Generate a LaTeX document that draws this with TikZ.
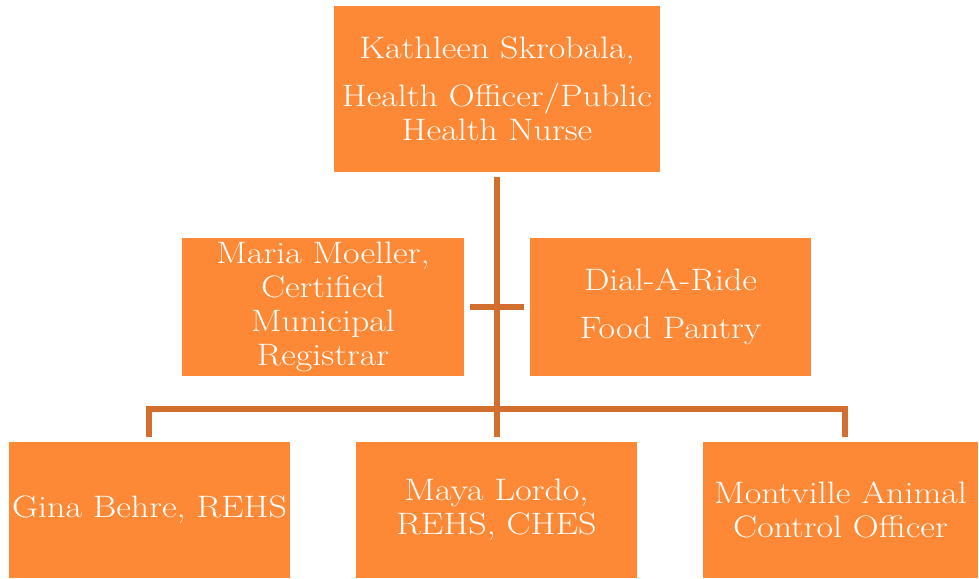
\documentclass[tikz,border=0pt]{standalone}
\usepackage{fontspec}
\setmainfont{Latin Modern Roman}[FakeStretch=1.16]
\usetikzlibrary{calc}
\definecolor{boxfill}{RGB}{253,137,54}
\definecolor{linkcol}{RGB}{210,110,46}
\begin{document}
\begin{tikzpicture}[x=1pt,y=-1pt,
  box/.style={fill=boxfill,draw=none,text=white,inner sep=0pt,align=center,
    font=\fontsize{31}{34}\selectfont},
  link/.style={draw=linkcol,line width=5.5pt}]
\useasboundingbox (0,0) rectangle (979,578);
\node[box,minimum width=326pt,minimum height=166pt] (top) at (497,89)
  {Kathleen Skrobala,\\[14pt]Health Officer/Public\\Health Nurse};
\node[box,minimum width=282pt,minimum height=138pt] (ml) at (323,307)
  {Maria Moeller,\\Certified\\Municipal\\Registrar};
\node[box,minimum width=281pt,minimum height=138pt] (mr) at (670.5,307)
  {Dial-A-Ride\\[14pt]Food Pantry};
\node[box,minimum width=281pt,minimum height=136pt] (gina) at (149.5,510)
  {Gina Behre, REHS};
\node[box,minimum width=281pt,minimum height=136pt] (maya) at (496.5,510)
  {Maya Lordo,\\REHS, CHES};
\node[box,minimum width=275pt,minimum height=136pt] (mont) at (840.5,510)
  {Montville Animal\\Control Officer};
\coordinate (stemtop) at (497,177);
\coordinate (stembot) at (497,437);
\coordinate (barL) at (149,409);
\coordinate (barR) at (845,409);
\coordinate (dropL) at (149,437);
\coordinate (dropR) at (845,437);
\draw[link] (stemtop) -- (stembot);
\draw[link] ($(ml.east)+(6,0)$) -- ($(mr.west)+(-6,0)$);
\draw[link] (dropL) -- (barL) -- (barR) -- (dropR);
\end{tikzpicture}
\end{document}
